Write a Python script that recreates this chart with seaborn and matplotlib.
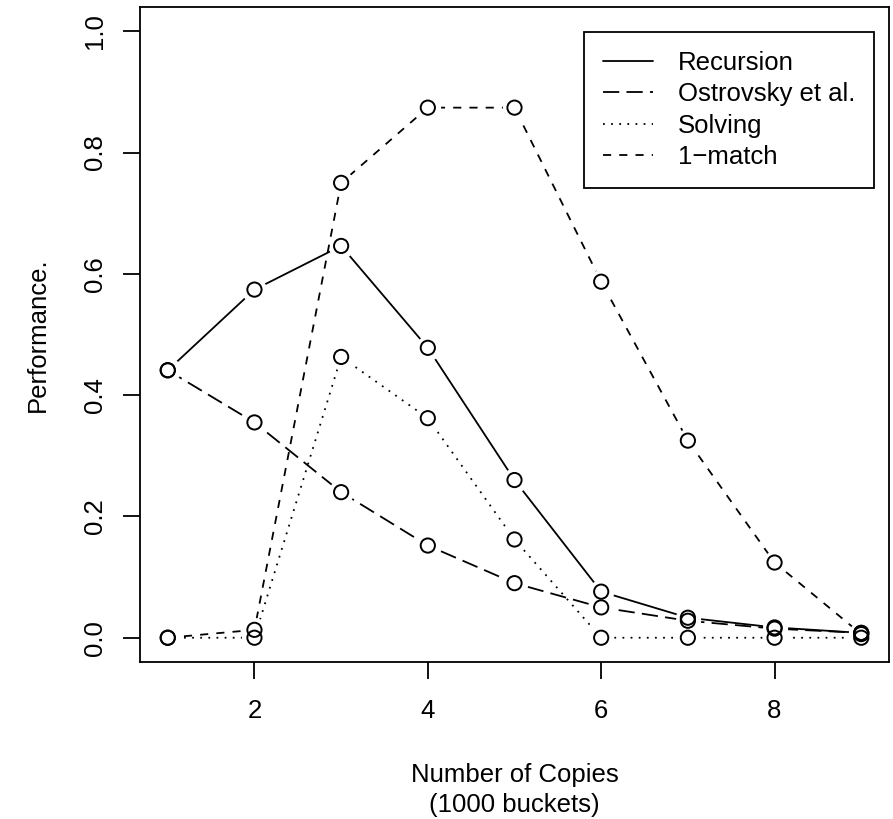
import matplotlib
matplotlib.use("Agg")
import matplotlib.pyplot as plt
import seaborn as sns
import pandas as pd
from matplotlib.lines import Line2D

copies = [1, 2, 3, 4, 5, 6, 7, 8, 9]
recursion = [0.441, 0.574, 0.646, 0.478, 0.260, 0.076, 0.033, 0.017, 0.008]
ostrovsky = [0.441, 0.355, 0.240, 0.152, 0.090, 0.050, 0.028, 0.015, 0.008]
solving = [0.0, 0.0, 0.463, 0.362, 0.162, 0.0, 0.0, 0.0, 0.0]
one_match = [0.0, 0.013, 0.750, 0.874, 0.874, 0.587, 0.325, 0.124, 0.006]
series_names = ["Recursion", "Ostrovsky et al.", "Solving", "1\u2212match"]
y_ticks = [0.0, 0.2, 0.4, 0.6, 0.8, 1.0]
x_ticks = [2, 4, 6, 8]

sns.set_theme(style="white")
plt.rcParams["font.family"] = ["Liberation Sans", "DejaVu Sans"]
plt.rcParams["axes.linewidth"] = 1.3

FS = 18.5
LW = 1.3
styles = ["-", (0, (9, 4)), (0, (1, 3.5)), (0, (4.5, 4.5))]

fig = plt.figure(figsize=(8.93, 8.19), dpi=100)
ax = fig.add_axes([0.1568, 0.1917, 0.9955 - 0.1568, 0.9915 - 0.1917])

data = [recursion, ostrovsky, solving, one_match]
for i, (name, vals) in enumerate(zip(series_names, data)):
    df = pd.DataFrame({"x": copies, "y": vals})
    sns.lineplot(data=df, x="x", y="y", ax=ax, color="black", linewidth=LW,
                 linestyle=styles[i], zorder=2 + i * 2)
    sns.scatterplot(data=df, x="x", y="y", ax=ax, color="white", s=330,
                    linewidth=0, zorder=3 + i * 2, marker="o")

for vals in data:
    df = pd.DataFrame({"x": copies, "y": vals})
    sns.scatterplot(data=df, x="x", y="y", ax=ax, marker="o", s=105,
                    facecolors="none", edgecolors="black", linewidth=1.4,
                    zorder=20)

ax.set_xlim(0.68, 9.32)
ax.set_ylim(-0.04, 1.04)
ax.set_xticks(x_ticks)
ax.set_yticks(y_ticks)
ax.set_xticklabels([str(t) for t in x_ticks])
ax.set_yticklabels([f"{t:.1f}" for t in y_ticks], rotation=90, va="center")
ax.tick_params(axis="both", direction="out", length=12.2, width=1.3,
               labelsize=FS, colors="black", bottom=True, left=True)
ax.tick_params(axis="x", pad=14.5)
ax.tick_params(axis="y", pad=11.8)
for s in ax.spines.values():
    s.set_color("black")
    s.set_linewidth(1.3)

ax.set_xlabel("Number of Copies\n(1000 buckets)", fontsize=FS, labelpad=29,
              linespacing=1.3, color="black")
ax.set_ylabel("Performance.", fontsize=FS, labelpad=23.5, color="black")

handles = [Line2D([0], [0], color="black", linewidth=LW, linestyle=st)
           for st in styles]
leg = fig.legend(handles, series_names, loc="upper left",
                 bbox_to_anchor=(584 / 893, 1 - 32 / 819), fontsize=FS,
                 frameon=True, fancybox=False, shadow=False,
                 handlelength=1.95, handletextpad=0.95, labelspacing=0.28,
                 borderpad=0.75, borderaxespad=0)
leg.get_frame().set_edgecolor("black")
leg.get_frame().set_linewidth(1.3)
leg.get_frame().set_alpha(1)
for t in leg.get_texts():
    t.set_color("black")

fig.savefig("out.png", dpi=100, facecolor="white")
